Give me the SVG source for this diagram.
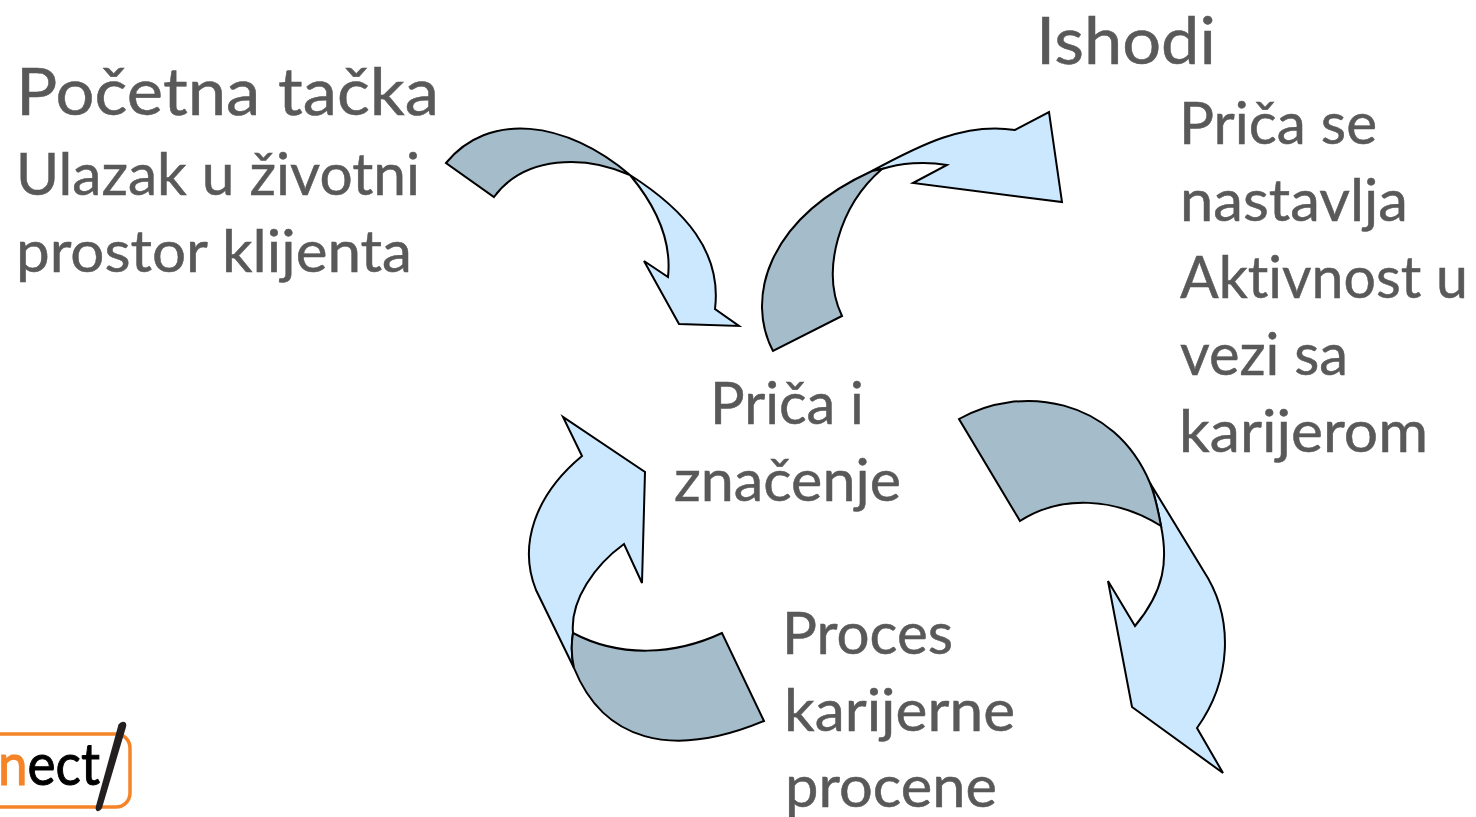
<svg xmlns="http://www.w3.org/2000/svg" width="1476" height="817" viewBox="0 0 1476 817">
<style>
text{font-family:"Lato","Liberation Sans",sans-serif;fill:#595959;stroke:#595959;stroke-width:.5;font-variant-ligatures:none}
.h{font-size:65px}
.b{font-size:58px}
.d{fill:#a5bccb;stroke:#000;stroke-width:2;stroke-linejoin:miter}
.l{fill:#cbe8fe;stroke:#000;stroke-width:2;stroke-linejoin:miter}
</style>
<rect width="1476" height="817" fill="#fff"/>
<g id="connectors">
<g id="arrow-start">
<path class="l" d="M630,175C685,210 722,252 715,309L739,326L679,324L644,261L668,277C672,240 655,205 630,175Z"/>
<path class="d" d="M446,163C488,111 566,120 630,175C585,155 525,155 494,197Z"/>
</g>
<g id="arrow-outcome">
<path class="l" d="M872,171C920,145 965,122 1015,130L1049,112L1062,202L913,183L947,165C925,161 900,163 882,169Z"/>
<path class="d" d="M773,351C746,300 765,220 872,171L882,169C840,205 820,270 842,316Z"/>
</g>
<g id="arrow-right">
<path class="l" d="M1150,483L1203,570C1236,620 1230,682 1197,728L1223,773L1132,707L1108,581L1135,626C1165,590 1168,560 1161,526C1158,510 1155,495 1150,483Z"/>
<path class="d" d="M959,419C1020,384 1114,397 1150,483C1155,495 1158,510 1161,526C1115,497 1060,495 1020,521Z"/>
</g>
<g id="arrow-left">
<path class="l" d="M574,668L536,590C518,545 535,495 582,456L563,417L645,472L642,583L624,544C595,565 570,600 573,633C571,645 571,655 574,668Z"/>
<path class="d" d="M573,633C620,658 675,655 722,633L764,721C670,760 603,740 574,668C571,655 571,645 573,633Z"/>
</g>
</g>
<g id="node-start">
<text class="h" x="16" y="115" textLength="423" lengthAdjust="spacingAndGlyphs">Početna tačka</text>
<text class="b" x="16" y="195" textLength="404" lengthAdjust="spacingAndGlyphs">Ulazak u životni</text>
<text class="b" x="16" y="272" textLength="396" lengthAdjust="spacingAndGlyphs">prostor klijenta</text>
</g>
<g id="node-outcome">
<text class="h" x="1036" y="64" textLength="180" lengthAdjust="spacingAndGlyphs">Ishodi</text>
<text class="b" x="1179" y="144" textLength="198" lengthAdjust="spacingAndGlyphs">Priča se</text>
<text class="b" x="1180" y="221" textLength="228" lengthAdjust="spacingAndGlyphs">nastavlja</text>
<text class="b" x="1180" y="298" textLength="288" lengthAdjust="spacingAndGlyphs">Aktivnost u</text>
<text class="b" x="1180" y="375" textLength="168" lengthAdjust="spacingAndGlyphs">vezi sa</text>
<text class="b" x="1179" y="452" textLength="249" lengthAdjust="spacingAndGlyphs">karijerom</text>
</g>
<g id="node-center">
<text class="b" x="710" y="424" textLength="154" lengthAdjust="spacingAndGlyphs">Priča i</text>
<text class="b" x="674" y="501" textLength="227" lengthAdjust="spacingAndGlyphs">značenje</text>
</g>
<g id="node-process">
<text class="b" x="782" y="654" textLength="171" lengthAdjust="spacingAndGlyphs">Proces</text>
<text class="b" x="784" y="731" textLength="231" lengthAdjust="spacingAndGlyphs">karijerne</text>
<text class="b" x="785" y="807" textLength="212" lengthAdjust="spacingAndGlyphs">procene</text>
</g>
<g id="logo">
<rect x="-40" y="734" width="170" height="73" rx="14" fill="#fff" stroke="#f58428" stroke-width="3.500"/>
<text x="-2" y="785" font-size="58" style="fill:#000;stroke:#000;stroke-width:1" textLength="102" lengthAdjust="spacingAndGlyphs"><tspan style="fill:#f58428;stroke:#f58428">n</tspan>ect</text>
<path d="M118.500,724.500Q121,721 124.500,722Q127,723 126,727L102,808Q100,812 97,811Q95,810 96,806Z" fill="#231f20"/>
</g>
</svg>
